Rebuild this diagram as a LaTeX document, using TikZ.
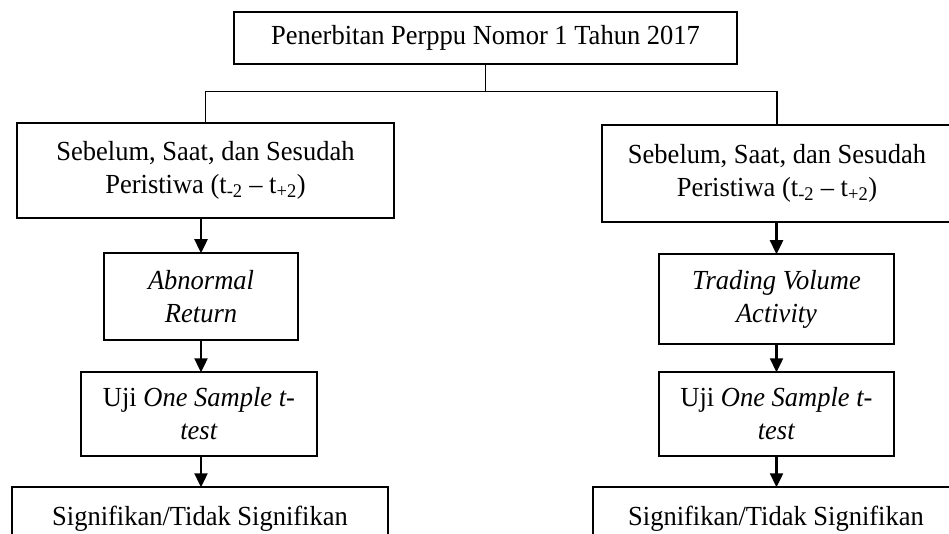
\documentclass[tikz,border=0pt]{standalone}
\usepackage{fontspec}
\setmainfont[FakeStretch=0.96]{Liberation Serif}
\usetikzlibrary{arrows.meta}
\tikzset{
  box/.style={draw, line width=1.5pt, rectangle, inner sep=0pt, align=center,
    font=\fontsize{27.6}{33}\selectfont},
  link/.style={line width=1.5pt},
  arr/.style={line width=2.4pt, -{Triangle[length=14pt,width=13pt]}, shorten >=-1pt}
}
\begin{document}
\begin{tikzpicture}[x=1pt,y=-1pt]
\useasboundingbox (0,0) rectangle (949,534);
\clip (0,0) rectangle (949,534);
% nodes
\node[box, minimum width=503pt, minimum height=52pt] (top) at (485.5,38) {Penerbitan Perppu Nomor 1 Tahun 2017};
\node[box, minimum width=377pt, minimum height=95pt] (L1) at (205.5,170.5) {Sebelum, Saat, dan Sesudah\\Peristiwa (t\textsubscript{-2} -- t\textsubscript{+2})};
\node[box, minimum width=350pt, minimum height=97pt] (R1) at (777,173.5) {Sebelum, Saat, dan Sesudah\\Peristiwa (t\textsubscript{-2} -- t\textsubscript{+2})};
\node[box, minimum width=194pt, minimum height=87pt] (L2) at (201,296.5) {\textit{Abnormal}\\\textit{Return}};
\node[box, minimum width=235pt, minimum height=90pt] (R2) at (776.5,299) {\textit{Trading Volume}\\\textit{Activity}};
\node[box, minimum width=236pt, minimum height=84pt] (L3) at (199,414) {Uji \textit{One Sample t-}\\\textit{test}};
\node[box, minimum width=235pt, minimum height=84pt] (R3) at (776.5,414) {Uji \textit{One Sample t-}\\\textit{test}};
\node[box, minimum width=376pt, minimum height=58pt, text depth=0pt] (L4) at (200,516) {Signifikan/Tidak Signifikan};
\node[box, minimum width=366pt, minimum height=58pt, text depth=0pt] (R4) at (776,516) {Signifikan/Tidak Signifikan};
% connectors
\draw[link] (top.south) -- ++(0,27) coordinate (j);
\draw[link] (L1.north) |- (j) -| (R1.north);
\draw[arr] (L1.south -| L2.north) -- (L2.north);
\draw[arr] (L2.south) -- (L2.south |- L3.north);
\draw[arr] (L3.south -| L2.south) -- (L2.south |- L4.north);
\draw[arr] (R1.south -| R2.north) -- (R2.north);
\draw[arr] (R2.south) -- (R2.south |- R3.north);
\draw[arr] (R3.south) -- (R3.south |- R4.north);
\end{tikzpicture}
\end{document}
